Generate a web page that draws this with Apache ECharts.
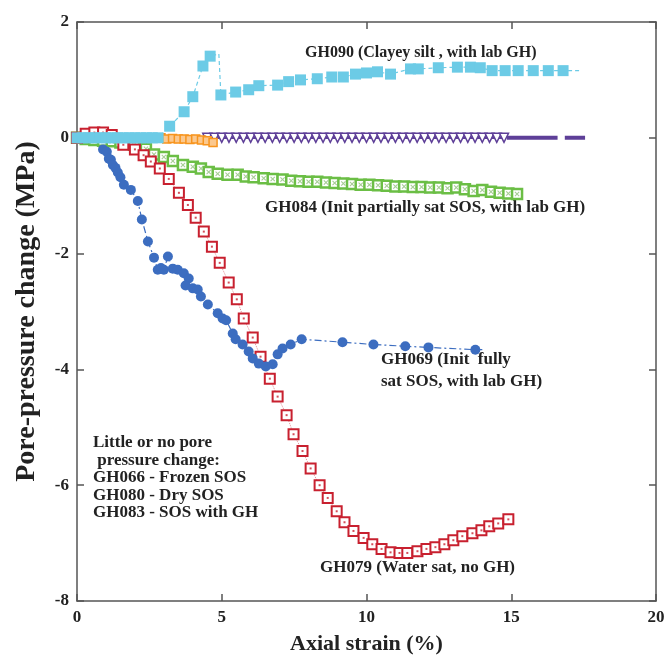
<!DOCTYPE html>
<html>
<head>
<meta charset="utf-8">
<script src="https://cdn.jsdelivr.net/npm/echarts@6/dist/echarts.min.js"></script>
<style>html,body{margin:0;padding:0;background:#fff}#c{width:669px;height:663px}</style>
</head>
<body>
<div id="c"></div>
<script>
// ---- data ----
var gh090X = [0,0.2,0.4,0.6,0.8,1.0,1.2,1.4,1.6,1.8,2.0,2.2,2.4,2.6,2.8,3.2,3.7,4.0,4.35,4.6,4.97,5.48,5.93,6.28,6.93,7.31,7.72,8.3,8.8,9.2,9.62,10.0,10.38,10.83,11.52,11.79,12.48,13.14,13.59,13.93,14.34,14.79,15.24,15.76,16.28,16.79];
var gh090Y = [0,0,0,0,0,0,0,0,0,0,0,0,0,0,0,0.2,0.45,0.71,1.24,1.41,0.74,0.79,0.83,0.90,0.91,0.97,1.0,1.02,1.05,1.05,1.10,1.12,1.14,1.10,1.19,1.19,1.21,1.22,1.22,1.21,1.16,1.16,1.16,1.16,1.16,1.16];
var gh090Extra = [[4.9,1.45],[17.4,1.16]]; // line-only points (no marker)

var gh084X = [0,0.3,0.6,0.9,1.2,1.5,1.75,1.97,2.38,2.66,3.0,3.31,3.66,4.0,4.28,4.55,4.86,5.2,5.55,5.83,6.1,6.45,6.76,7.1,7.4,7.7,8.0,8.3,8.6,8.9,9.2,9.5,9.8,10.1,10.4,10.7,11.0,11.3,11.6,11.9,12.2,12.5,12.8,13.1,13.4,13.7,14.0,14.3,14.6,14.9,15.2];
var gh084Y = [0,-0.02,-0.04,-0.05,-0.06,-0.08,-0.1,-0.12,-0.19,-0.29,-0.33,-0.40,-0.47,-0.5,-0.53,-0.59,-0.62,-0.64,-0.64,-0.67,-0.68,-0.70,-0.71,-0.72,-0.74,-0.75,-0.76,-0.76,-0.77,-0.78,-0.79,-0.80,-0.81,-0.81,-0.82,-0.83,-0.84,-0.84,-0.85,-0.85,-0.86,-0.86,-0.87,-0.86,-0.89,-0.92,-0.90,-0.93,-0.95,-0.96,-0.97];

var gh079X = [0,0.3,0.6,0.9,1.2,1.6,2.0,2.3,2.55,2.86,3.17,3.52,3.83,4.1,4.38,4.66,4.93,5.24,5.52,5.76,6.07,6.34,6.66,6.93,7.24,7.48,7.79,8.07,8.38,8.66,8.97,9.24,9.55,9.9,10.2,10.52,10.83,11.14,11.41,11.76,12.07,12.38,12.69,13.0,13.31,13.66,13.97,14.24,14.55,14.9];
var gh079Y = [0,0.07,0.09,0.09,0.05,-0.12,-0.2,-0.3,-0.41,-0.53,-0.71,-0.95,-1.16,-1.38,-1.62,-1.88,-2.16,-2.5,-2.79,-3.12,-3.45,-3.78,-4.16,-4.47,-4.79,-5.12,-5.41,-5.71,-6.0,-6.22,-6.45,-6.64,-6.79,-6.91,-7.02,-7.10,-7.16,-7.17,-7.17,-7.14,-7.10,-7.07,-7.02,-6.95,-6.88,-6.83,-6.78,-6.71,-6.66,-6.59];

var gh069X = [0.9,1.03,1.1,1.17,1.24,1.33,1.41,1.5,1.62,1.86,2.1,2.24,2.45,2.66,2.79,2.9,3.0,3.14,3.31,3.48,3.69,3.86,3.75,4.0,4.17,4.28,4.52,4.86,5.03,5.15,5.38,5.48,5.72,5.93,6.07,6.28,6.52,6.76,6.93,7.1,7.38,7.76,9.17,10.24,11.34,12.14,13.76];
var gh069Y = [-0.2,-0.24,-0.36,-0.38,-0.47,-0.52,-0.6,-0.68,-0.81,-0.9,-1.09,-1.41,-1.79,-2.07,-2.28,-2.25,-2.28,-2.05,-2.26,-2.28,-2.34,-2.43,-2.55,-2.6,-2.62,-2.74,-2.88,-3.03,-3.12,-3.15,-3.38,-3.48,-3.57,-3.69,-3.81,-3.9,-3.95,-3.91,-3.74,-3.64,-3.57,-3.48,-3.53,-3.57,-3.6,-3.62,-3.66];
var gh069End = [14.0,-3.66];

var orangeX = [0.2,0.5,0.8,1.1,1.4,1.7,2.0,2.3,2.6,2.9,3.1,3.3,3.5,3.7,3.9,4.1,4.3,4.5,4.7];
var orangeY = [0,0,0,0,0,0,0,0,0,0,-0.02,-0.01,-0.02,-0.02,-0.03,-0.02,-0.04,-0.05,-0.08];

var purpleX = [4.5,4.75,5.0,5.25,5.5,5.75,6.0,6.25,6.5,6.75,7.0,7.25,7.5,7.75,8.0,8.25,8.5,8.75,9.0,9.25,9.5,9.75,10.0,10.25,10.5,10.75,11.0,11.25,11.5,11.75,12.0,12.25,12.5,12.75,13.0,13.25,13.5,13.75,14.0,14.25,14.5,14.75];
var purpleY = [0,0,0,0,0,0,0,0,0,0,0,0,0,0,0,0,0,0,0,0,0,0,0,0,0,0,0,0,0,0,0,0,0,0,0,0,0,0,0,0,0,0];
var purpleBarX = [14.85,16.6,null,16.85,17.55];
var purpleBarY = [0,0,null,0,0];

var xTicks = [0,5,10,15,20];
var yTicks = [-8,-6,-4,-2,0,2];

function zip(xs, ys){ var o=[]; for(var i=0;i<xs.length;i++){ o.push(xs[i]===null?[null,null]:[xs[i],ys[i]]); } return o; }

var FONT = '"Liberation Serif","DejaVu Serif",serif';
var cyan = '#6CCBE6', green = '#6BBE45', red = '#C8202F', blue = '#3C6DC0', orange = '#F7941D', purple = '#5E3F98';
var XPATH = 'path://M0,1.5L1.5,0L5,3.5L8.5,0L10,1.5L6.5,5L10,8.5L8.5,10L5,6.5L1.5,10L0,8.5L3.5,5Z';

var cyanData = zip(gh090X, gh090Y);
cyanData.splice(20, 0, {value: gh090Extra[0], symbol: 'none'});
cyanData.push({value: gh090Extra[1], symbol: 'none'});

var blueData = zip(gh069X, gh069Y);
blueData.push({value: gh069End, symbol: 'none'});

var chart = echarts.init(document.getElementById('c'), null, {renderer: 'canvas'});
var axisLine = {onZero: false, lineStyle: {color: '#555', width: 1.5}};
var tick = {inside: true, length: 7, lineStyle: {color: '#555', width: 1.5}};
chart.setOption({
  animation: false,
  backgroundColor: '#fff',
  grid: {left: 77, right: 13, top: 22, bottom: 62},
  xAxis: [{
    type: 'value', min: 0, max: 20, interval: 5, position: 'bottom',
    axisLine: axisLine, axisTick: tick, splitLine: {show: false},
    axisLabel: {fontFamily: FONT, fontWeight: 'bold', fontSize: 17, color: '#222', margin: 8,
      formatter: function(v){ return xTicks.indexOf(v) >= 0 ? String(v) : ''; }},
    name: 'Axial strain (%)', nameLocation: 'middle', nameGap: 32,
    nameTextStyle: {fontFamily: FONT, fontWeight: 'bold', fontSize: 22, color: '#222'}
  }, {
    type: 'value', min: 0, max: 20, interval: 5, position: 'top',
    axisLine: axisLine, axisTick: tick, axisLabel: {show: false}, splitLine: {show: false}
  }],
  yAxis: [{
    type: 'value', min: -8, max: 2, interval: 2, position: 'left',
    axisLine: axisLine, axisTick: tick, splitLine: {show: false},
    axisLabel: {fontFamily: FONT, fontWeight: 'bold', fontSize: 17, color: '#222', margin: 8,
      formatter: function(v){ return yTicks.indexOf(v) >= 0 ? String(v) : ''; }},
    name: 'Pore-pressure change (MPa)', nameLocation: 'middle', nameGap: 36,
    nameTextStyle: {fontFamily: FONT, fontWeight: 'bold', fontSize: 28, color: '#222'}
  }, {
    type: 'value', min: -8, max: 2, interval: 2, position: 'right',
    axisLine: axisLine, axisTick: tick, axisLabel: {show: false}, splitLine: {show: false}
  }],
  series: [
    {name: 'purpleBar', type: 'line', data: zip(purpleBarX, purpleBarY), symbol: 'none', connectNulls: false,
      lineStyle: {color: purple, width: 4}, z: 2},
    {name: 'GH066', type: 'line', data: zip(purpleX, purpleY), symbol: 'triangle', symbolRotate: 180, symbolSize: 9,
      itemStyle: {color: '#fff', borderColor: purple, borderWidth: 1.5},
      lineStyle: {color: purple, width: 2.5}, z: 3},
    {name: 'GH083', type: 'line', data: zip(orangeX, orangeY), symbol: 'rect', symbolSize: 8,
      itemStyle: {color: '#FBC88E', borderColor: orange, borderWidth: 1.5},
      lineStyle: {color: orange, width: 1}, z: 4},
    {name: 'GH084', type: 'line', data: zip(gh084X, gh084Y), symbol: 'rect', symbolSize: 10,
      itemStyle: {color: '#fff', borderColor: green, borderWidth: 2.5},
      lineStyle: {color: green, width: 1}, z: 5},
    {name: 'GH084x', type: 'scatter', data: zip(gh084X, gh084Y), symbol: XPATH, symbolSize: 5,
      itemStyle: {color: '#8FBF78'}, z: 5},
    {name: 'GH079', type: 'line', data: zip(gh079X, gh079Y), symbol: 'rect', symbolSize: 10,
      itemStyle: {color: '#fff', borderColor: red, borderWidth: 2},
      lineStyle: {color: '#E58A92', width: 1, type: 'dotted'}, z: 6},
    {name: 'GH079dot', type: 'scatter', data: zip(gh079X, gh079Y), symbol: 'rect', symbolSize: 2,
      itemStyle: {color: red}, z: 7},
    {name: 'GH069', type: 'line', data: blueData, symbol: 'circle', symbolSize: 10,
      itemStyle: {color: blue, borderColor: blue, borderWidth: 0},
      lineStyle: {color: blue, width: 1.2, type: [7, 3, 2, 3]}, z: 8},
    {name: 'GH090', type: 'line', data: cyanData, symbol: 'rect', symbolSize: 11,
      itemStyle: {color: cyan, borderWidth: 0},
      lineStyle: {color: cyan, width: 1.2, type: [4, 3]}, z: 9}
  ],
  graphic: [
    {type: 'text', left: 305, top: 45, style: {text: 'GH090 (Clayey silt , with lab GH)', font: 'bold 16px ' + FONT, fill: '#222'}},
    {type: 'text', left: 265, top: 199, style: {text: 'GH084 (Init partially sat SOS, with lab GH)', font: 'bold 17px ' + FONT, fill: '#222'}},
    {type: 'text', left: 381, top: 349, style: {text: 'GH069 (Init  fully\nsat SOS, with lab GH)', font: 'bold 17px ' + FONT, fill: '#222', lineHeight: 22}},
    {type: 'text', left: 320, top: 559, style: {text: 'GH079 (Water sat, no GH)', font: 'bold 17px ' + FONT, fill: '#222'}},
    {type: 'text', left: 93, top: 434, style: {text: 'Little or no pore\n pressure change:\nGH066 - Frozen SOS\nGH080 - Dry SOS\nGH083 - SOS with GH', font: 'bold 17px ' + FONT, fill: '#222', lineHeight: 17.5}}
  ]
});
</script>
</body>
</html>
